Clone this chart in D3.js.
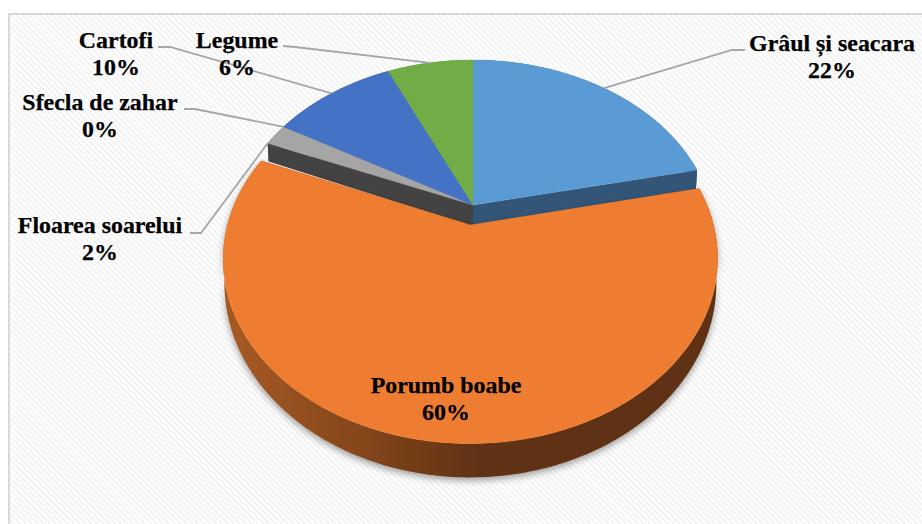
<!DOCTYPE html>
<html><head><meta charset="utf-8">
<script src="https://cdn.jsdelivr.net/npm/d3@7/dist/d3.min.js"></script>
<style>html,body{margin:0;padding:0;background:#fff}svg{display:block}
text{font-family:"Liberation Serif",serif;font-weight:700;font-size:23.9px;fill:#000;stroke:#000;stroke-width:0.25;text-anchor:middle}</style>
</head><body><svg id="c" width="922" height="524"></svg>
<script>
const categories = ["Grâul și seacara","Porumb boabe","Floarea soarelui","Sfecla de zahar","Cartofi","Legume"];
const values = [21.6, 59.7, 2, 0, 9.9, 6.8];
const percentLabels = ["22%","60%","2%","0%","10%","6%"];
const explosion = [0, 0.115, 0, 0, 0, 0];
const topColors = ["#5b9bd5","#ee7d31","#a5a5a5","#ffc000","#4472c4","#70ad47"];
const faceColors = ["#335578","#8a4a1c","#434343","#8a6a00","#2a4578","#43692b"];

const W=922,H=524;
const svg=d3.select("#c");
const defs=svg.append("defs");
const pat=defs.append("pattern").attr("id","hatch").attr("patternUnits","userSpaceOnUse")
  .attr("width",4.2).attr("height",4.2).attr("patternTransform","rotate(-45)");
pat.append("rect").attr("width",4.2).attr("height",4.2).attr("fill","#fff");
pat.append("rect").attr("width",2.1).attr("height",4.2).attr("fill","#f3f3f3");
const grad=defs.append("linearGradient").attr("id","wallOrange").attr("gradientUnits","userSpaceOnUse")
  .attr("x1",225).attr("x2",480).attr("y1",0).attr("y2",0);
grad.append("stop").attr("offset",0).attr("stop-color","#a85a24");
grad.append("stop").attr("offset",0.5).attr("stop-color","#87481c");
grad.append("stop").attr("offset",1).attr("stop-color","#5f3213");
const sh=defs.append("filter").attr("id","shadow").attr("x","-10%").attr("y","-10%").attr("width","120%").attr("height","125%");
sh.append("feDropShadow").attr("dx",0).attr("dy",3).attr("stdDeviation",3.5).attr("flood-color","#000").attr("flood-opacity",0.38);

// Chart area
svg.append("rect").attr("x",9).attr("y",14).attr("width",W).attr("height",H)
  .attr("fill","url(#hatch)").attr("stroke","#d9d9d9").attr("stroke-width",2);

// Perspective projection of the disc
const cx=473, cy=205, R=238, Rt=171.1, k=0.18;
const sx=d3.scaleLinear().domain([-1,1]).range([cx-R,cx+R]);
const sy=d3.scaleLinear().domain([-1,1]).range([cy-Rt,cy+Rt]);
function project(X,Y,lower){
  const s=1/(1-k*Y);
  const d=lower?(21.5+5*Y):0;
  return [cx+(sx(X)-cx)*s*(lower?0.995:1), cy+(sy(Y)-cy)*s+d*s];
}
const pie=d3.pie().sort(null).value(d=>d);
const slices=pie(values).map((a,i)=>{
  const mid=(a.startAngle+a.endAngle)/2, e=explosion[i];
  const ox=e*Math.sin(mid), oy=-e*Math.cos(mid);
  const pt=(t,lower)=>project(ox+Math.sin(t),oy-Math.cos(t),lower);
  const n=Math.max(2,Math.ceil((a.endAngle-a.startAngle)/0.01));
  const thetas=d3.range(n+1).map(j=>a.startAngle+(a.endAngle-a.startAngle)*j/n);
  return {i,a,mid,ox,oy,pt,thetas,apex:l=>project(ox,oy,l)};
});
const line=d3.line();
function drawFaces(g,s){
  if(values[s.i]===0)return;
  const c=s.i===1?"url(#wallOrange)":faceColors[s.i];
  [s.a.startAngle,s.a.endAngle].forEach(t=>{
    g.append("path").attr("d",line([s.apex(false),s.pt(t,false),s.pt(t,true),s.apex(true)])+"Z").attr("fill",faceColors[s.i]);
  });
  const up=s.thetas.map(t=>s.pt(t,false)), lo=s.thetas.map(t=>s.pt(t,true)).reverse();
  g.append("path").attr("d",line(up.concat(lo))+"Z").attr("fill",c);
}
function drawTop(g,s){
  if(values[s.i]===0)return;
  g.append("path").attr("d",line([s.apex(false)].concat(s.thetas.map(t=>s.pt(t,false))))+"Z")
    .attr("fill",topColors[s.i]).attr("stroke",topColors[s.i]).attr("stroke-width",0.4);
}
const back=slices.filter(s=>explosion[s.i]===0);
const front=slices.filter(s=>explosion[s.i]>0);
const gBack=svg.append("g");
[5,4,3,2,0].forEach(i=>drawFaces(gBack,slices[i]));
back.forEach(s=>drawTop(gBack,s));
const gFront=svg.append("g");
const gw=gFront.append("g").attr("filter","url(#shadow)");
front.forEach(s=>drawFaces(gw,s));
front.forEach(s=>drawTop(gFront,s));

// Leader lines: label side point, elbow, then a point on the slice rim
const leaderFrac=[0.5,0.5,0,0.5,0.5,0.5];
const leaderStart=[[745,50],null,[190,233],[184,109],[158,47],[283,46]];
const leaderElbow=[[732,50],null,[201,233],[195,109],[170,47],[295,47]];
slices.forEach(s=>{
  if(!leaderStart[s.i])return;
  const t=s.a.startAngle+(s.a.endAngle-s.a.startAngle)*leaderFrac[s.i];
  svg.append("path").attr("d",line([leaderStart[s.i],leaderElbow[s.i],s.pt(t,false)]))
    .attr("fill","none").attr("stroke","#a6a6a6").attr("stroke-width",1.8);
});

// Labels
const labelX=[832,446,100,100,116,237];
const labelY=[51,393,233,110,48,48];
categories.forEach((c,i)=>{
  svg.append("text").attr("x",labelX[i]).attr("y",labelY[i]).text(c);
  svg.append("text").attr("x",labelX[i]).attr("y",labelY[i]+27).text(percentLabels[i]);
});
</script></body></html>
